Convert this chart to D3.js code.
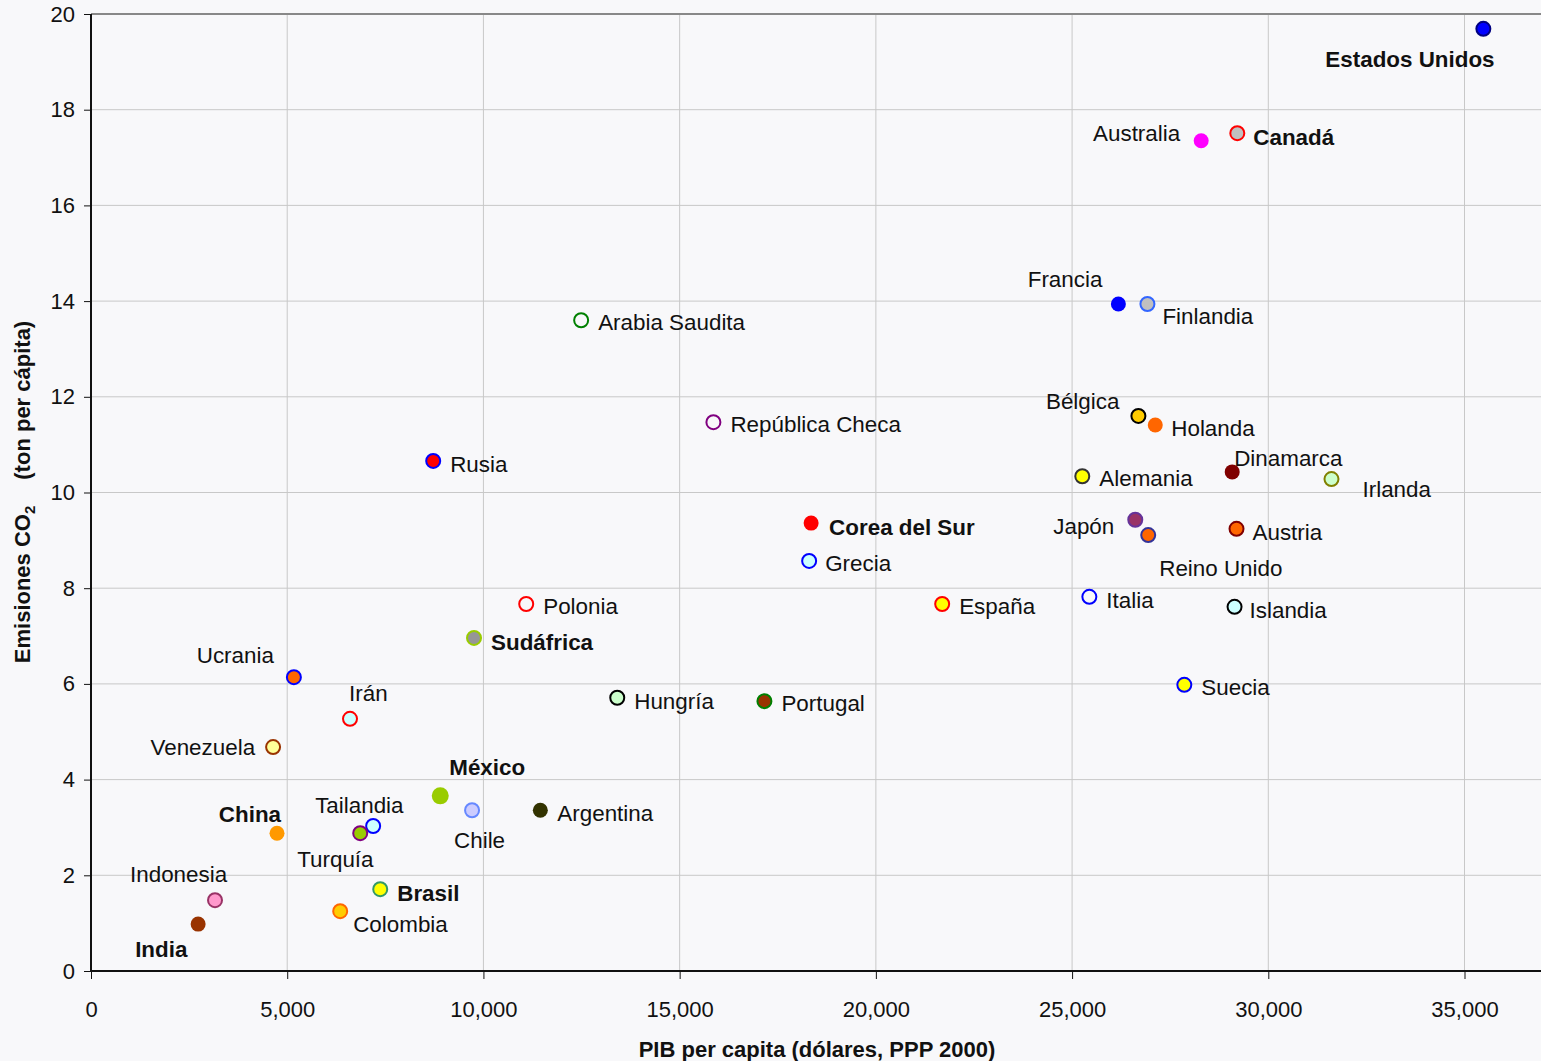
<!DOCTYPE html>
<html>
<head>
<meta charset="utf-8">
<script src="https://d3js.org/d3.v7.min.js"></script>
<style>
  body { margin: 0; background: #f8f8fa; }
  svg { display: block; font-family: "Liberation Sans", Arial, sans-serif; }
</style>
</head>
<body>
<div id="chart"></div>
<script>
// Data
const countries = ['Estados Unidos','Australia','Canadá','Francia','Finlandia','Arabia Saudita',
  'República Checa','Rusia','Bélgica','Holanda','Alemania','Dinamarca','Irlanda','Corea del Sur',
  'Grecia','Japón','Reino Unido','Austria','Polonia','España','Italia','Islandia','Sudáfrica',
  'Ucrania','Irán','Hungría','Portugal','Suecia','Venezuela','México','Chile','Argentina',
  'Tailandia','Turquía','China','Indonesia','Brasil','Colombia','India'];
const gdp = [35480, 28290, 29210, 26180, 26920, 12490, 15860, 8720, 26690, 27120, 25260, 29080,
  31610, 18350, 18300, 26610, 26940, 29190, 11090, 21690, 25440, 29140, 9760, 5170, 6600, 13410,
  17160, 27860, 4640, 8900, 9710, 11450, 7190, 6860, 4740, 3160, 7370, 6350, 2730];
const co2 = [19.69, 17.35, 17.51, 13.94, 13.94, 13.60, 11.47, 10.66, 11.60, 11.41, 10.34, 10.43,
  10.28, 9.36, 8.57, 9.43, 9.11, 9.24, 7.67, 7.67, 7.82, 7.61, 6.96, 6.14, 5.27, 5.71, 5.64,
  5.98, 4.68, 3.66, 3.36, 3.36, 3.03, 2.88, 2.88, 1.48, 1.71, 1.25, 0.98];
const highlighted = ['Estados Unidos','Canadá','Corea del Sur','Sudáfrica','México','China','Brasil','India'];
const xTicks = [0, 5000, 10000, 15000, 20000, 25000, 30000, 35000];
const yTicks = [0, 2, 4, 6, 8, 10, 12, 14, 16, 18, 20];

// Marker styles: [fill, stroke] (stroke null = none)
const markerStyle = [
  ['#0000ff','#000080'], ['#ff00ff',null], ['#c0c0c0','#ff0000'], ['#0000ff',null], ['#c0c0c0','#3366ff'],
  ['#f8f8fa','#008000'], ['#f8f8fa','#800080'], ['#ff0000','#0000ff'], ['#ffcc00','#000000'], ['#ff6600',null],
  ['#ffff00','#333333'], ['#800000',null], ['#ccffcc','#808000'], ['#ff0000',null], ['#ccffff','#0000ff'],
  ['#993366','#663399'], ['#ff6600','#333399'], ['#ff6600','#800000'], ['#f8f8fa','#ff0000'], ['#ffff00','#ff0000'],
  ['#f8f8fa','#0000ff'], ['#ccffff','#000000'], ['#969696','#99cc00'], ['#ff6600','#0000ff'], ['#ccffff','#ff0000'],
  ['#ccffcc','#000000'], ['#993300','#008000'], ['#ffff00','#0000ff'], ['#ffff99','#993300'], ['#99cc00',null],
  ['#ccccff','#6688ff'], ['#333300',null], ['#ccffff','#0000ff'], ['#99cc00','#800080'], ['#ff9900',null],
  ['#ff99cc','#993366'], ['#ffff00','#339966'], ['#ffcc00','#ff6600'], ['#993300',null]
];
// Label placement relative to marker: [dx, dy, anchor]
const labelPlace = [
  [-158,38,'start'], [-21,0,'end'], [16,12,'start'], [-16,-17,'end'], [15,20,'start'], [17,10,'start'],
  [17,10,'start'], [17,11,'start'], [-19,-7,'end'], [16,11,'start'], [17,10,'start'], [2,-6,'start'],
  [31,18,'start'], [18,12,'start'], [16,10,'start'], [-21,14,'end'], [11,41,'start'], [16,11,'start'],
  [17,10,'start'], [17,10,'start'], [17,11,'start'], [15,11,'start'], [17,12,'start'],
  [-20,-14,'end'], [-1,-18,'start'], [17,11,'start'], [17,10,'start'], [17,10,'start'], [-18,8,'end'],
  [9,-21,'start'], [-18,38,'start'], [17,11,'start'], [-58,-13,'start'], [-63,34,'start'], [4,-11,'end'],
  [-85,-18,'start'], [17,12,'start'], [13,21,'start'], [-63,33,'start']
];

const width = 1541, height = 1061;
const margin = { left: 91, top: 14, right: 0, bottom: 90 };

const svg = d3.select("#chart").append("svg")
  .attr("width", width)
  .attr("height", height);

const x = d3.scaleLinear().domain([0, 37000]).range([margin.left, 1543]);
const y = d3.scaleLinear().domain([0, 20]).range([971, margin.top]);

// Gridlines
svg.append("g").selectAll("line").data(xTicks.slice(1))
  .enter().append("line")
  .attr("x1", d => x(d)).attr("x2", d => x(d))
  .attr("y1", y(20)).attr("y2", y(0))
  .attr("stroke", "#c8c8c8").attr("stroke-width", 1);
svg.append("g").selectAll("line").data(yTicks.slice(1, -1))
  .enter().append("line")
  .attr("x1", x(0)).attr("x2", width)
  .attr("y1", d => y(d)).attr("y2", d => y(d))
  .attr("stroke", "#c8c8c8").attr("stroke-width", 1);

// Top border
svg.append("line")
  .attr("x1", x(0)).attr("x2", width)
  .attr("y1", y(20)).attr("y2", y(20))
  .attr("stroke", "#888").attr("stroke-width", 2);

// Axes
const xAxis = svg.append("g")
  .attr("transform", "translate(0," + y(0) + ")")
  .call(d3.axisBottom(x).tickValues(xTicks).tickSize(8).tickPadding(22)
    .tickFormat(d3.format(",")));
const yAxis = svg.append("g")
  .attr("transform", "translate(" + x(0) + ",0)")
  .call(d3.axisLeft(y).tickValues(yTicks).tickSize(7).tickPadding(9));

[xAxis, yAxis].forEach(function (g) {
  g.select(".domain").attr("stroke", "#111").attr("stroke-width", 2);
  g.selectAll(".tick line").attr("stroke", "#111").attr("stroke-width", 1);
  g.selectAll(".tick text").attr("font-size", 22).attr("fill", "#111")
    .attr("font-family", "'Liberation Sans', Arial, sans-serif");
});
xAxis.select(".domain").attr("d", "M" + x(0) + ",0H" + width);
yAxis.select(".domain").attr("d", "M0," + y(0) + "V" + y(20));

// Axis titles
svg.append("text")
  .attr("x", 817).attr("y", 1057)
  .attr("text-anchor", "middle")
  .attr("font-size", 22).attr("font-weight", "bold").attr("fill", "#111")
  .text("PIB per capita (dólares, PPP 2000)");

const yt = svg.append("text")
  .attr("transform", "translate(30,492) rotate(-90)")
  .attr("text-anchor", "middle")
  .attr("font-size", 22).attr("font-weight", "bold").attr("fill", "#111");
yt.append("tspan").text("Emisiones CO");
yt.append("tspan").attr("font-size", 15).attr("dy", 5).text("2");
yt.append("tspan").attr("dy", -5).attr("dx", 26).text("(ton per cápita)");

// Points
const points = countries.map((c, i) => ({
  name: c, gdp: gdp[i], co2: co2[i],
  fill: markerStyle[i][0], stroke: markerStyle[i][1],
  dx: labelPlace[i][0], dy: labelPlace[i][1], anchor: labelPlace[i][2],
  bold: highlighted.indexOf(c) >= 0
}));

const node = svg.append("g").selectAll("g")
  .data(points).enter().append("g")
  .attr("transform", d => "translate(" + x(d.gdp) + "," + y(d.co2) + ")");

node.append("circle")
  .attr("r", d => d.name === 'México' ? 8.5 : (d.stroke ? 7 : 7.5))
  .attr("fill", d => d.fill)
  .attr("stroke", d => d.stroke || "none")
  .attr("stroke-width", 2);

node.append("text")
  .attr("x", d => d.dx).attr("y", d => d.dy)
  .attr("text-anchor", d => d.anchor)
  .attr("font-size", 22.4)
  .attr("font-weight", d => d.bold ? "bold" : "normal")
  .attr("fill", "#111")
  .text(d => d.name);
</script>
</body>
</html>
